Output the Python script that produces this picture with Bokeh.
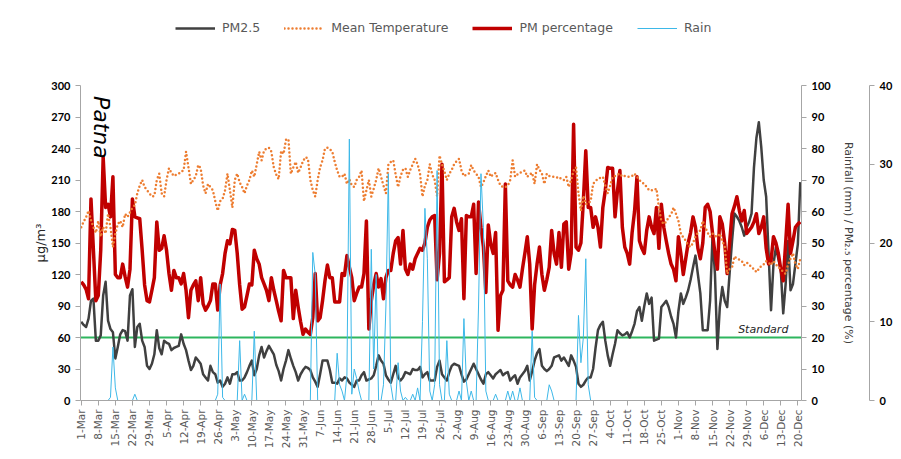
import math
from bokeh.plotting import figure
from bokeh.layouts import column
from bokeh.models import (Range1d, LinearAxis, FixedTicker, Span, Label, Legend, LegendItem)
from bokeh.embed import file_html
from bokeh.resources import INLINE

# ---------------- data (daily, 1-Mar .. 21-Dec) ----------------
tick_days = list(range(0, 295, 7))
tick_labels = ["1-Mar", "8-Mar", "15-Mar", "22-Mar", "29-Mar", "5-Apr", "12-Apr", "19-Apr", "26-Apr",
               "3-May", "10-May", "17-May", "24-May", "31-May", "7-Jun", "14-Jun", "21-Jun", "28-Jun",
               "5-Jul", "12-Jul", "19-Jul", "26-Jul", "2-Aug", "9-Aug", "16-Aug", "23-Aug", "30-Aug",
               "6-Sep", "13-Sep", "20-Sep", "27-Sep", "4-Oct", "11-Oct", "18-Oct", "25-Oct", "1-Nov",
               "8-Nov", "15-Nov", "22-Nov", "29-Nov", "6-Dec", "13-Dec", "20-Dec"]

# PM2.5 (ug/m3)
pm25 = [75, 72, 70, 78, 95, 97, 57, 57, 62, 100, 113, 76, 68, 65, 40, 51, 63, 67, 66, 57,
        100, 106, 51, 70, 73, 57, 51, 33, 30, 35, 44, 67, 50, 44, 57, 55, 54, 48, 50, 51,
        52, 63, 54, 48, 38, 29, 33, 41, 38, 35, 25, 22, 19, 33, 27, 25, 17, 19, 13, 16,
        22, 16, 25, 25, 27, 19, 19, 22, 27, 33, 38, 24, 30, 43, 51, 41, 47, 52, 48, 44,
        34, 28, 19, 30, 38, 48, 40, 33, 27, 19, 25, 29, 32, 31, 29, 22, 18, 13, 25, 38,
        38, 38, 29, 17, 17, 16, 21, 19, 22, 21, 17, 15, 13, 19, 19, 24, 27, 19, 20, 21,
        24, 33, 43, 38, 35, 24, 20, 17, 25, 33, 22, 19, 22, 27, 26, 25, 30, 29, 29, 32,
        22, 25, 27, 19, 19, 19, 32, 38, 25, 22, 19, 27, 33, 35, 34, 33, 25, 18, 20, 25,
        30, 35, 30, 25, 20, 16, 25, 27, 24, 21, 25, 27, 29, 24, 26, 27, 19, 22, 24, 16,
        22, 25, 28, 33, 19, 28, 38, 45, 49, 33, 30, 28, 30, 33, 41, 42, 43, 38, 41, 37,
        33, 43, 38, 32, 16, 13, 15, 19, 22, 22, 30, 50, 67, 72, 75, 57, 43, 33, 44, 54,
        67, 64, 62, 63, 65, 60, 66, 73, 85, 89, 76, 90, 102, 92, 98, 57, 58, 59, 89, 92,
        95, 89, 80, 73, 60, 85, 102, 92, 98, 105, 115, 127, 138, 120, 102, 67, 67, 67, 95, 157,
        120, 49, 89, 108, 95, 89, 121, 152, 178, 175, 171, 165, 157, 165, 170, 178, 222, 250, 265, 241,
        210, 194, 140, 86, 130, 146, 135, 124, 83, 111, 152, 105, 111, 130, 149, 208]

# PM2.5 percentage (%), right axis
pm_pct = [37.7, 36.7, 35.3, 32.3, 64.0, 47.7, 31.7, 33.3, 47.7, 77.3, 61.3, 62.3, 58.3, 71.0, 40.0, 39.0, 39.0, 43.3, 39.3, 36.0,
          41.7, 64.0, 58.3, 58.0, 57.7, 47.7, 36.7, 31.7, 31.3, 35.0, 39.0, 56.7, 47.7, 48.3, 52.3, 47.7, 40.3, 35.0, 41.3, 39.0,
          39.0, 37.0, 40.3, 35.0, 26.3, 35.0, 36.7, 38.0, 31.7, 39.0, 30.7, 28.7, 30.0, 31.7, 37.0, 37.0, 28.7, 36.7, 40.3, 46.7,
          50.7, 49.7, 54.3, 54.0, 46.7, 36.7, 29.0, 29.7, 33.3, 37.0, 36.7, 47.7, 45.0, 43.3, 39.0, 37.0, 35.0, 31.7, 39.0, 35.0,
          31.7, 28.3, 25.3, 41.3, 39.0, 39.0, 39.0, 26.0, 35.0, 29.7, 25.0, 21.0, 22.7, 21.7, 21.0, 26.3, 40.3, 25.3, 26.3, 31.7,
          38.0, 43.0, 39.0, 39.0, 31.3, 31.3, 31.3, 40.3, 39.7, 46.0, 42.3, 39.0, 31.7, 34.0, 36.0, 36.0, 40.3, 57.0, 22.7, 31.7,
          36.7, 40.3, 36.0, 38.7, 32.3, 39.0, 41.3, 41.3, 46.7, 50.7, 51.7, 43.3, 54.0, 41.7, 40.0, 43.3, 41.7, 45.0, 46.7, 48.3,
          47.7, 50.0, 55.0, 57.3, 58.3, 58.7, 38.3, 46.7, 75.0, 37.7, 38.3, 39.0, 58.3, 61.0, 56.7, 54.0, 57.7, 32.3, 58.7, 58.3,
          58.3, 62.3, 40.3, 63.0, 55.0, 48.7, 34.3, 55.7, 49.7, 46.7, 53.3, 22.3, 33.3, 35.0, 68.7, 38.0, 36.7, 36.0, 40.0, 38.3,
          36.0, 41.7, 46.7, 52.0, 43.3, 22.7, 36.7, 43.3, 48.7, 40.0, 35.0, 38.3, 42.3, 54.0, 46.7, 43.3, 53.3, 42.3, 56.0, 56.7,
          41.7, 46.7, 87.7, 48.7, 47.7, 50.0, 63.3, 79.3, 61.3, 61.3, 55.0, 58.3, 55.0, 48.7, 61.3, 66.7, 74.0, 73.7, 73.7, 58.3,
          66.7, 73.0, 55.0, 48.7, 46.7, 43.3, 53.3, 60.0, 71.0, 50.7, 48.3, 46.7, 54.0, 58.3, 55.0, 53.0, 61.3, 48.3, 62.3, 55.0,
          50.7, 46.7, 43.3, 41.7, 38.0, 52.0, 46.7, 40.0, 45.0, 50.0, 53.3, 58.3, 55.0, 48.3, 45.0, 50.0, 61.3, 62.3, 60.0, 53.0,
          46.7, 41.7, 58.3, 56.0, 50.0, 40.3, 50.0, 59.3, 61.7, 64.7, 60.3, 57.0, 60.3, 53.0, 54.0, 55.0, 56.7, 59.3, 53.0, 55.0,
          58.3, 48.3, 43.3, 44.3, 52.0, 50.0, 46.7, 41.7, 38.0, 50.0, 62.3, 46.7, 50.7, 55.0, 56.0, 56.7]

# Mean temperature (deg C), third axis
temp = [22.0, 22.7, 23.3, 24.1, 22.9, 22.0, 21.3, 22.8, 20.8, 22.0, 21.2, 23.7, 22.0, 19.5, 21.2, 22.4, 22.8, 22.0, 23.7, 23.3,
        23.9, 24.5, 24.8, 26.3, 27.3, 28.0, 27.1, 26.7, 26.3, 25.9, 26.0, 28.0, 28.8, 26.3, 25.9, 28.0, 29.5, 28.9, 28.5, 28.7,
        28.8, 29.1, 29.2, 31.6, 29.6, 27.5, 28.0, 28.5, 29.9, 29.5, 27.3, 26.3, 27.5, 27.1, 26.7, 25.3, 24.1, 25.3, 25.6, 26.7,
        28.8, 26.7, 24.5, 28.0, 28.8, 27.7, 27.1, 26.3, 27.3, 28.0, 29.2, 28.4, 30.0, 31.6, 30.5, 31.7, 32.0, 32.1, 31.6, 29.6,
        28.7, 28.1, 31.7, 31.3, 33.1, 33.2, 28.8, 29.6, 30.3, 28.9, 29.6, 30.4, 30.9, 30.7, 28.0, 26.7, 25.9, 28.0, 29.6, 30.5,
        32.0, 32.1, 31.9, 31.6, 30.3, 29.2, 28.4, 28.4, 28.8, 27.5, 28.1, 27.3, 27.1, 28.0, 28.4, 29.2, 25.3, 26.7, 28.0, 25.9,
        26.9, 28.0, 29.5, 28.4, 27.3, 26.3, 29.9, 30.3, 30.5, 28.7, 27.1, 28.5, 29.3, 29.5, 28.4, 29.3, 30.0, 30.7, 30.0, 28.8,
        25.9, 27.3, 28.0, 30.0, 28.7, 28.0, 25.9, 31.1, 30.0, 29.1, 28.0, 28.8, 29.3, 30.0, 30.4, 30.7, 29.2, 28.5, 28.7, 28.8,
        29.9, 29.2, 28.8, 28.4, 27.1, 27.7, 28.5, 29.2, 28.4, 28.7, 28.9, 28.0, 27.3, 27.1, 27.1, 27.3, 28.0, 30.5, 28.4, 28.7,
        28.9, 29.1, 29.2, 28.4, 28.7, 28.9, 27.5, 30.0, 29.3, 28.8, 27.5, 28.8, 28.5, 28.4, 28.4, 28.3, 28.4, 28.1, 28.0, 28.4,
        27.1, 28.0, 29.2, 29.6, 26.3, 24.1, 26.0, 24.9, 25.1, 25.3, 27.5, 27.9, 28.1, 28.3, 28.4, 27.3, 26.3, 27.3, 28.4, 28.5,
        28.7, 28.8, 28.4, 28.5, 28.4, 28.4, 28.5, 28.8, 28.4, 28.0, 27.7, 27.5, 27.1, 26.7, 26.7, 26.7, 26.9, 24.5, 22.8, 22.4,
        22.7, 23.3, 23.6, 24.5, 23.7, 22.8, 21.2, 20.7, 20.3, 19.7, 19.5, 20.0, 20.8, 21.3, 21.6, 22.8, 22.0, 21.3, 20.8, 21.2,
        20.9, 20.8, 21.2, 20.3, 19.5, 16.1, 16.7, 16.9, 18.3, 18.0, 17.9, 17.7, 17.2, 17.5, 17.3, 16.9, 16.7, 16.3, 16.7, 17.1,
        17.3, 17.7, 17.5, 17.2, 17.7, 17.3, 16.9, 16.7, 16.3, 16.1, 17.3, 18.0, 18.7, 17.3, 16.7, 18.0]

# Rain (mm): days with rain (day index from 1-Mar) and amounts; all other days are 0
rain_day = [12, 13, 14, 22, 56, 57, 58, 65, 67, 71, 95, 96, 105, 106, 107, 109, 110, 111, 112, 113,
            114, 119, 120, 121, 124, 125, 126, 127, 130, 131, 133, 136, 138, 140, 141, 142, 143, 145, 146, 147,
            150, 151, 155, 157, 158, 160, 163, 164, 165, 166, 170, 175, 177, 180, 185, 186, 192, 193, 204, 205,
            206, 207, 208]
rain_mm = [1, 17, 4, 2, 2, 37, 1, 19, 2, 22, 47, 40, 15, 5, 3, 8, 83, 2, 10, 7,
           3, 48, 10, 40, 5, 30, 72, 5, 12, 3, 1, 2, 4, 25, 61, 45, 3, 5, 73, 5,
           19, 2, 3, 26, 6, 3, 30, 72, 55, 3, 2, 3, 3, 4, 22, 1, 5, 3, 27, 12,
           20, 45, 5]

standard_value = 60

# ---------------- build ----------------
n = len(pm25)
rain = [0] * n
for d, mm in zip(rain_day, rain_mm):
    rain[d] = mm
days = list(range(n))

AX = "#A6A6A6"
NUM_FONT = "Lato"
TXT_FONT = "DejaVu Sans"

C_PM, C_PCT, C_TMP, C_RAIN = "#404040", "#C00000", "#ED7D31", "#3DB8E8"
STY_PM = dict(line_color=C_PM, line_width=2.5, line_join="round")
STY_PCT = dict(line_color=C_PCT, line_width=3.5, line_join="round")
STY_TMP = dict(line_color=C_TMP, line_width=2.5, line_dash="0 4", line_cap="round")
STY_RAIN = dict(line_color=C_RAIN, line_width=1)
LEG_H = 45

# ---- legend strip (separate figure on top; its ranges keep the series out of view) ----
lf = figure(width=901, height=LEG_H, output_backend="svg", toolbar_location=None,
            x_range=Range1d(-1000, -999), y_range=Range1d(-1000, -999), min_border=0)
lf.outline_line_color = None
lf.axis.visible = False
lf.grid.visible = False
l_pm = lf.line(days, pm25, **STY_PM)
l_tmp = lf.line(days, temp, **STY_TMP)
l_pct = lf.line(days, pm_pct, **STY_PCT)
l_rain = lf.line(days, rain, **STY_RAIN)
legend = Legend(items=[LegendItem(label="PM2.5", renderers=[l_pm]),
                       LegendItem(label="Mean Temperature", renderers=[l_tmp]),
                       LegendItem(label="PM percentage", renderers=[l_pct]),
                       LegendItem(label="Rain", renderers=[l_rain])],
                orientation="horizontal", location=(95, 10), border_line_color=None,
                background_fill_alpha=0, glyph_width=40, glyph_height=12, label_standoff=7,
                spacing=24, padding=0, margin=0, label_text_font=TXT_FONT,
                label_text_font_size="12.5px", label_text_color="#595959")
lf.add_layout(legend)

# ---- main chart ----
p = figure(width=901, height=459 - LEG_H, output_backend="svg", toolbar_location=None,
           x_range=Range1d(-0.3, 295.5), y_range=Range1d(0, 300),
           min_border_left=80, min_border_right=100, min_border_top=85 - LEG_H, min_border_bottom=59)
p.extra_y_ranges = {"pct": Range1d(0, 100), "temp": Range1d(0, 40)}
p.outline_line_color = None
p.xgrid.visible = False
p.ygrid.visible = False
p.background_fill_color = "white"
p.border_fill_color = "white"

p.add_layout(Span(location=standard_value, dimension="width", line_color="#2EB65E",
                  line_width=2, level="underlay"))

p.line(days, pm25, **STY_PM)
p.line(days, pm_pct, y_range_name="pct", **STY_PCT)
p.line(days, temp, y_range_name="temp", **STY_TMP)
p.line(days, rain, y_range_name="pct", **STY_RAIN)

yl = p.yaxis[0]
yl.ticker = FixedTicker(ticks=list(range(0, 301, 30)))
yl.axis_label = "µg/m³"
yl.axis_label_text_font = TXT_FONT
yl.axis_label_text_font_size = "13px"
yl.axis_label_text_font_style = "normal"
yl.axis_label_text_color = "#262626"
yl.axis_label_standoff = 0

xa = p.xaxis[0]
xa.ticker = FixedTicker(ticks=tick_days)
xa.major_label_overrides = {d: lab for d, lab in zip(tick_days, tick_labels)}
xa.major_label_orientation = math.pi / 2
xa.major_label_text_font = TXT_FONT
xa.major_label_text_font_size = "10.5px"
xa.major_label_text_color = "#595959"
xa.major_label_standoff = 4

ax_pct = LinearAxis(y_range_name="pct", ticker=FixedTicker(ticks=list(range(0, 101, 10))))
ax_pct.axis_label = "Rainfall (mm) / PM₂.₅ percentage (%)"
ax_pct.axis_label_text_font = TXT_FONT
ax_pct.axis_label_text_font_size = "11px"
ax_pct.axis_label_text_font_style = "normal"
ax_pct.axis_label_text_color = "#404040"
ax_pct.axis_label_standoff = 8

gap = LinearAxis(y_range_name="temp", ticker=FixedTicker(ticks=[0]), axis_line_color=None,
                 major_tick_line_color=None, minor_tick_line_color=None, major_tick_out=12,
                 major_tick_in=0, major_label_text_font_size="1px", major_label_text_alpha=0,
                 major_label_standoff=0)
ax_tmp = LinearAxis(y_range_name="temp", ticker=FixedTicker(ticks=list(range(0, 41, 10))))
p.add_layout(ax_pct, "right")
p.add_layout(gap, "right")
p.add_layout(ax_tmp, "right")

for ax in (yl, ax_pct, ax_tmp):
    ax.major_label_text_font = NUM_FONT
    ax.major_label_text_font_style = "bold"
    ax.major_label_text_font_size = "11px"
    ax.major_label_text_color = "black"
    ax.major_label_standoff = 5
for ax in (yl, xa, ax_pct, ax_tmp):
    ax.axis_line_color = AX
    ax.major_tick_line_color = AX
    ax.minor_tick_line_color = None
    ax.major_tick_out = 5
    ax.major_tick_in = 0

p.add_layout(Label(x=8.2, y=290, text="Patna", angle=-math.pi / 2, text_align="left",
                   text_baseline="middle", text_font=TXT_FONT, text_font_style="italic",
                   text_font_size="22px", text_color="black"))
p.add_layout(Label(x=269.5, y=61.5, text="Standard", text_align="left", text_baseline="bottom",
                   text_font=TXT_FONT, text_font_style="italic", text_font_size="11px",
                   text_color="#262626"))

open("out.html", "w").write(file_html(column(lf, p, spacing=0), INLINE))
